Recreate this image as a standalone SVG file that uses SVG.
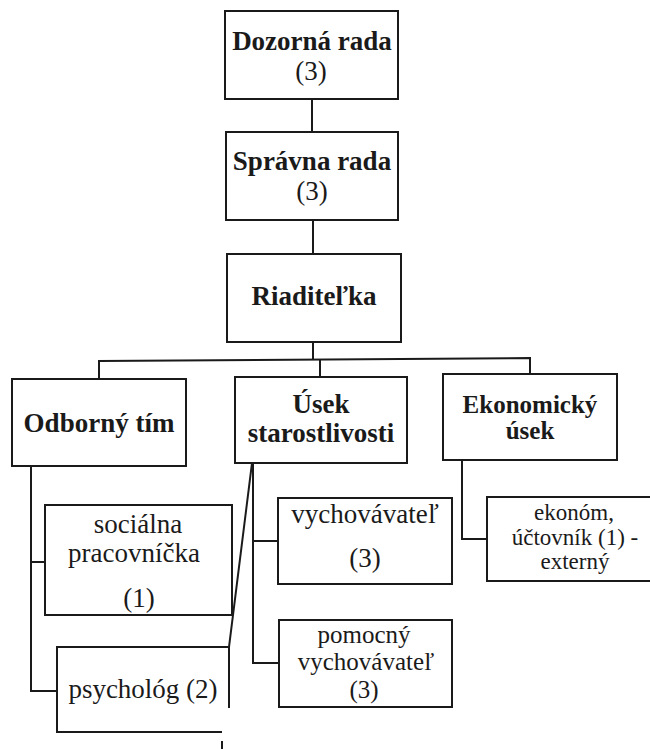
<svg xmlns="http://www.w3.org/2000/svg" width="650" height="749" viewBox="0 0 650 749">
<style>
  .box { fill: #ffffff; stroke: #1a1a1a; stroke-width: 2; }
  .open { fill: none; stroke: #1a1a1a; stroke-width: 2; }
  .ln { fill: none; stroke: #1a1a1a; stroke-width: 2; }
  .b { font-family: "Liberation Serif", "Times New Roman", serif; font-weight: bold; font-size: 27px; fill: #1a1a1a; text-anchor: middle; }
  .r { font-family: "Liberation Serif", "Times New Roman", serif; font-size: 27px; fill: #1a1a1a; text-anchor: middle; }
  .s { font-size: 25px; }
  .t { font-size: 23px; }
</style>
<rect width="650" height="749" fill="#ffffff"/>
<g id="connectors">
  <line class="ln" x1="312" y1="99" x2="312" y2="132"/>
  <line class="ln" x1="313" y1="220" x2="313" y2="254"/>
  <line class="ln" x1="313" y1="342" x2="313" y2="360"/>
  <polyline class="ln" points="99,379 99,361 530,358 530,374"/>
  <line class="ln" x1="320" y1="360" x2="320" y2="377"/>
  <polyline class="ln" points="31,466 31,691 57,691"/>
  <line class="ln" x1="31" y1="562" x2="45" y2="562"/>
  <line class="ln" x1="252" y1="463" x2="229" y2="647"/>
  <polyline class="ln" points="253,463 253,663 279,663"/>
  <line class="ln" x1="253" y1="541" x2="278" y2="541"/>
  <polyline class="ln" points="462,460 462,539 487,539"/>
  <line class="ln" x1="222" y1="741" x2="222" y2="749"/>
</g>
<g id="dozorna">
  <rect class="box" x="225" y="11" width="173" height="88"/>
  <text class="b" x="312" y="50">Dozorná rada</text>
  <text class="r" x="311" y="80">(3)</text>
</g>
<g id="spravna">
  <rect class="box" x="226" y="132" width="172" height="88"/>
  <text class="b" x="312" y="170">Správna rada</text>
  <text class="r" x="312" y="200">(3)</text>
</g>
<g id="riaditelka">
  <rect class="box" x="227" y="254" width="174" height="88"/>
  <text class="b" x="314" y="305">Riaditeľka</text>
</g>
<g id="odborny">
  <rect class="box" x="12" y="379" width="174" height="87"/>
  <text class="b" x="99" y="432">Odborný tím</text>
</g>
<g id="usek">
  <rect class="box" x="235" y="377" width="172" height="86"/>
  <text class="b" x="321" y="413">Úsek</text>
  <text class="b" x="321" y="442">starostlivosti</text>
</g>
<g id="ekonomicky">
  <rect class="box" x="443" y="374" width="174" height="86"/>
  <text class="b s" x="530" y="413">Ekonomický</text>
  <text class="b s" x="530" y="439">úsek</text>
</g>
<g id="socialna">
  <rect class="box" x="45" y="505" width="187" height="110"/>
  <text class="r" x="138" y="533">sociálna</text>
  <text class="r" x="134" y="562">pracovníčka</text>
  <text class="r" x="139" y="607">(1)</text>
</g>
<g id="psycholog">
  <path class="open" d="M229,708 L229,647 L57,647 L57,732 L222,732"/>
  <text class="r" x="143" y="698">psychológ (2)</text>
</g>
<g id="vychovavatel">
  <rect class="box" x="278" y="498" width="174" height="86"/>
  <text class="r" x="365" y="523">vychovávateľ</text>
  <text class="r" x="365" y="567">(3)</text>
</g>
<g id="pomocny">
  <rect class="box" x="279" y="620" width="173" height="87"/>
  <text class="r s" x="364" y="643">pomocný</text>
  <text class="r s" x="366" y="670">vychovávateľ</text>
  <text class="r s" x="364" y="698">(3)</text>
</g>
<g id="ekonom">
  <rect class="box" x="487" y="497" width="176" height="84"/>
  <text class="r t" x="574" y="520">ekonóm,</text>
  <text class="r t" x="575" y="545">účtovník (1) -</text>
  <text class="r t" x="575" y="569">externý</text>
</g>
</svg>
